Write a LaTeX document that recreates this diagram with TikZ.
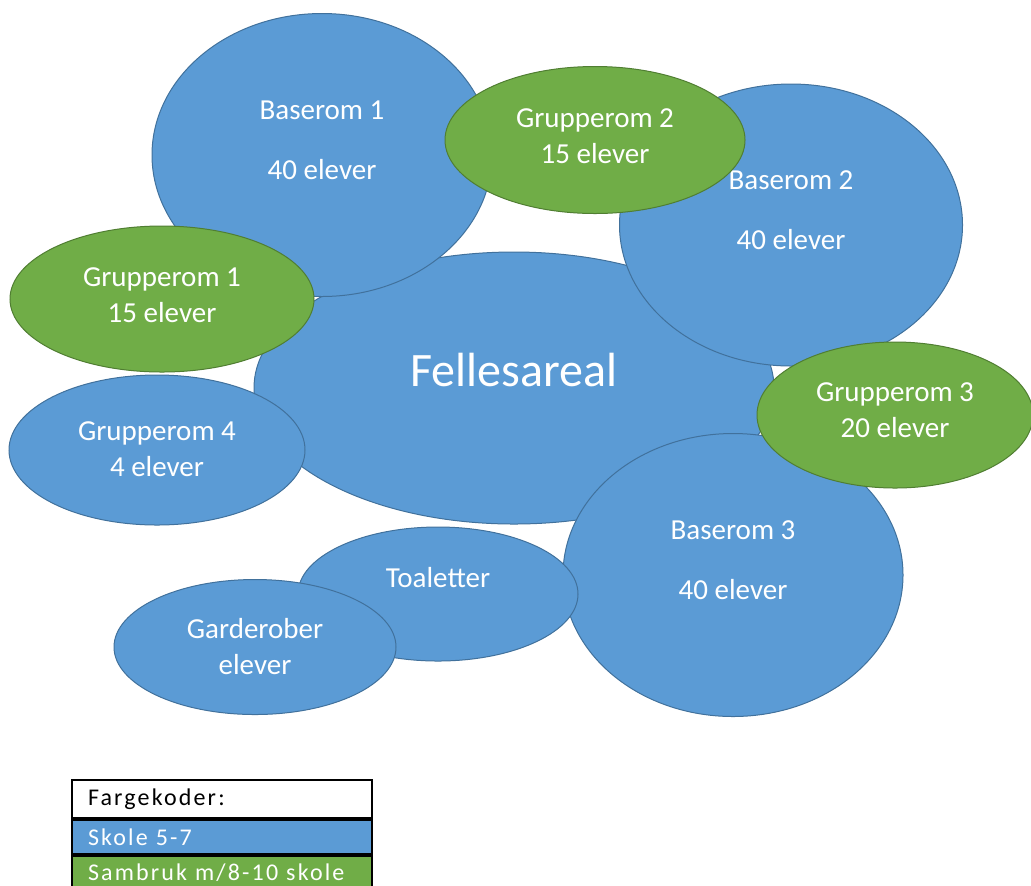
\documentclass[tikz,border=0pt]{standalone}
\usepackage{fontspec}
\setmainfont{Carlito}
\newfontfamily\legendFamily[LetterSpace=9]{Carlito}
\usepackage{tikz}
\usetikzlibrary{positioning, shapes.geometric}
\definecolor{skoleColor}{HTML}{5B9BD5}
\definecolor{skoleLineColor}{HTML}{41719C}
\definecolor{sambrukColor}{HTML}{70AD47}
\definecolor{sambrukLineColor}{HTML}{507E32}
\newcommand{\px}{0.5pt}
\newcommand{\roomFont}{\fontsize{14.5}{18}\selectfont}
\newcommand{\legendFont}{\legendFamily\fontsize{12}{14}\selectfont}
\tikzstyle{plan} = [x = \px, y = -\px]
\tikzstyle{skoleRoom} = [ellipse, fill=skoleColor, draw=skoleLineColor, line width=.5pt, inner sep=0pt]
\tikzstyle{sambrukRoom} = [ellipse, fill=sambrukColor, draw=sambrukLineColor, line width=.5pt, inner sep=0pt]
\tikzstyle{roomText} = [text=white, align=center, font=\roomFont, inner sep=0pt]
\tikzstyle{legendBox} = [draw=black, line width=1pt, minimum width=300*\px, text width=268*\px, inner xsep=16*\px, inner ysep=0pt, align=left, font=\legendFont, anchor=north]
% style, name, x, y, width, height, text shift, text
\newcommand{\room}[8]{
  \node [#1, minimum width=#5*\px, minimum height=#6*\px] (#2) at (#3, #4) {};
  \node [roomText] (#2Text) at ([yshift=#7*\px]#2.center) {#8};
}

\begin{document}
\begin{tikzpicture}[plan]
  \useasboundingbox (0, 0) rectangle (1031, 885);

  \room{skoleRoom}{felles}{514}{388}{520}{272}{18}{\fontsize{24}{28}\selectfont Fellesareal}
  \room{skoleRoom}{baserom1}{322}{155}{340}{283}{15}{Baserom 1\\[12pt]40 elever}
  \room{skoleRoom}{baserom2}{791}{225}{343}{282}{15}{Baserom 2\\[12pt]40 elever}
  \room{skoleRoom}{baserom3}{733}{575}{340}{283}{15}{Baserom 3\\[12pt]40 elever}
  \room{skoleRoom}{grupperom4}{157}{450}{296}{150}{1}{Grupperom 4\\4 elever}
  \room{skoleRoom}{toaletter}{438}{594}{280}{134}{16}{Toaletter}
  \room{skoleRoom}{garderober}{255}{647}{282}{135}{0}{Garderober\\elever}
  \room{sambrukRoom}{grupperom1}{162}{299}{304}{146}{4}{Grupperom 1\\15 elever}
  \room{sambrukRoom}{grupperom2}{595}{140}{300}{147}{4}{Grupperom 2\\15 elever}
  \room{sambrukRoom}{grupperom3}{895}{415}{276}{146}{5}{Grupperom 3\\20 elever}

  \node [legendBox, fill=white, minimum height=38*\px, text=black] (fargekoder) at (222, 779) {Fargekoder:};
  \node [legendBox, fill=skoleColor, minimum height=34*\px, text=white, below=0pt of fargekoder] (skoleKode) {Skole 5-7};
  \node [legendBox, fill=sambrukColor, minimum height=34*\px, text=white, below=0pt of skoleKode] (sambrukKode) {Sambruk m/8-10 skole};
\end{tikzpicture}
\end{document}
